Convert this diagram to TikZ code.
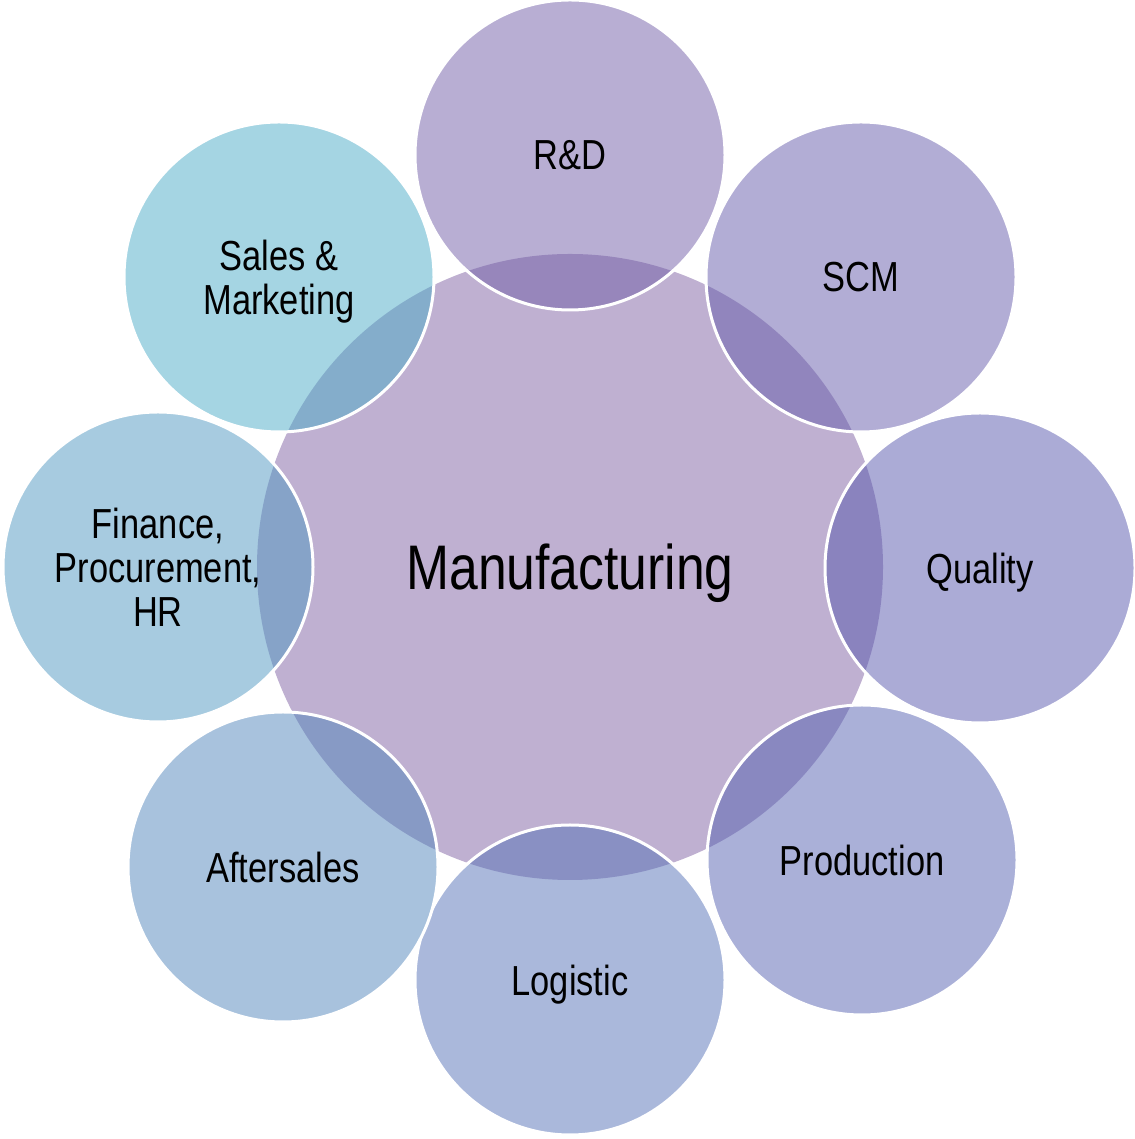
\documentclass[tikz,border=0pt]{standalone}
\usepackage{fontspec}
\setmainfont[FakeStretch=0.82]{Liberation Sans}
\usepackage{xcolor}
\definecolor{hub}{RGB}{191,176,209}
\definecolor{tRD}{RGB}{113,93,167}
\definecolor{tSCM}{RGB}{101,91,171}
\definecolor{tQual}{RGB}{87,87,173}
\definecolor{tProd}{RGB}{85,97,177}
\definecolor{tLog}{RGB}{85,113,183}
\definecolor{tAfter}{RGB}{81,133,187}
\definecolor{tFin}{RGB}{79,151,193}
\definecolor{tSales}{RGB}{75,171,199}

\begin{document}
\begin{tikzpicture}[x=1pt,y=1pt,
    sat/.style={circle,minimum size=310pt,inner sep=0pt,draw=white,line width=3pt,
        fill opacity=0.5,text opacity=1,text depth=0pt,align=center,
        font=\fontsize{42}{44}\selectfont}]
    \useasboundingbox (0,0) rectangle (1134,1139);
    \node[circle,fill=hub,minimum size=626pt,inner sep=0pt,text depth=0pt,
        font=\fontsize{63}{66}\selectfont] (mfg) at (570,572) {Manufacturing};
    \foreach \n/\c/\x/\y/\t in {rd/tRD/570/984/{R\&D}, scm/tSCM/861/862/{SCM},
        qual/tQual/980/571/{Quality}, prod/tProd/862/279/{Production},
        log/tLog/570/159/{Logistic}, after/tAfter/283/272/{Aftersales},
        fin/tFin/158/572/{Finance,\\Procurement,\\HR}, sales/tSales/279/862/{Sales \&\\Marketing}}
        \node[sat,fill=\c] (\n) at (\x,\y) {\t};
\end{tikzpicture}
\end{document}
